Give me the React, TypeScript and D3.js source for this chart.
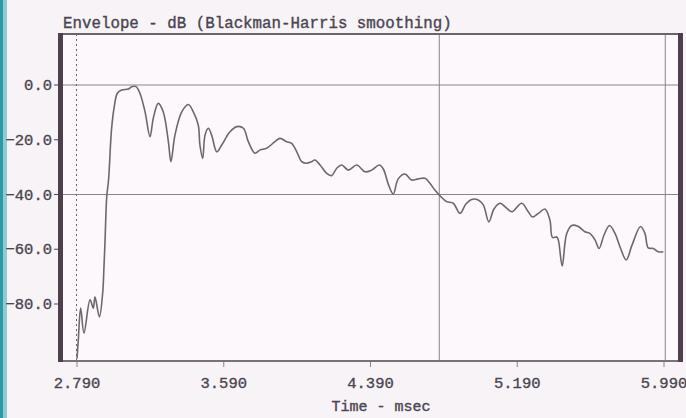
import React, { useEffect, useRef } from 'react';
import * as d3 from 'd3';

// envelope trace, time in msec
const times = [
  2.79, 2.797, 2.81, 2.828, 2.861, 2.879, 2.888, 2.912, 2.93, 2.937, 2.943, 2.952, 2.962, 2.978, 2.992,
  3.01, 3.034, 3.07, 3.088, 3.112, 3.133, 3.161, 3.188, 3.206, 3.233, 3.26, 3.288, 3.302, 3.324, 3.361,
  3.397, 3.424, 3.451, 3.46, 3.475, 3.488, 3.506, 3.524, 3.552, 3.579, 3.624, 3.661, 3.697, 3.724, 3.76,
  3.788, 3.824, 3.869, 3.897, 3.933, 3.96, 3.988, 4.015, 4.042, 4.069, 4.087, 4.115, 4.151, 4.178, 4.206,
  4.233, 4.269, 4.315, 4.36, 4.396, 4.438, 4.46, 4.487, 4.514, 4.541, 4.578, 4.614, 4.65, 4.687, 4.714,
  4.741, 4.769, 4.805, 4.841, 4.878, 4.91, 4.942, 4.977, 5.005, 5.035, 5.063, 5.096, 5.132, 5.161, 5.214,
  5.25, 5.273, 5.305, 5.341, 5.368, 5.382, 5.405, 5.414, 5.435, 5.459, 5.487, 5.523, 5.559, 5.586, 5.614,
  5.636, 5.663, 5.693, 5.723, 5.75, 5.784, 5.815, 5.862, 5.886, 5.904, 5.931, 5.959, 5.986,
];

// level in dB
const levels = [
  -100, -93.2, -81.5, -90.6, -78.5, -81.5, -77.4, -84.7, -76.0, -66.5, -56.6, -40.9, -34.7, -16.4, -8.4,
  -3.0, -1.8, -1.5, -0.6, -0.6, -3.0, -9.8, -18.9, -12.1, -6.7, -9.8, -20.7, -28.0, -18.3, -9.8,
  -7.1, -9.8, -14.6, -21.9, -26.8, -18.3, -15.8, -18.3, -24.4, -21.9, -17.1, -15.2, -15.8, -20.7, -24.9,
  -23.7, -23.1, -20.7, -19.5, -20.7, -21.3, -24.4, -28.0, -28.6, -28.0, -27.4, -29.2, -32.3, -33.1, -30.4,
  -29.2, -31.1, -29.2, -31.7, -31.1, -29.2, -30.7, -36.2, -39.8, -34.3, -32.5, -34.7, -34.3, -34.1, -35.9,
  -38.4, -40.5, -42.6, -43.2, -46.9, -43.5, -41.8, -42.0, -43.8, -50.0, -45.3, -43.2, -45.0, -46.3, -43.2,
  -46.3, -48.2, -46.9, -45.3, -49.3, -55.7, -55.5, -56.6, -66.1, -54.4, -51.3, -51.7, -53.6, -54.2, -56.6,
  -59.7, -54.8, -51.3, -54.2, -59.1, -63.9, -58.6, -51.7, -54.2, -59.5, -59.7, -60.9, -60.9,
];

const xTicks = [2.79, 3.59, 4.39, 5.19, 5.99];
const yTicks = [0, -20, -40, -60, -80];
const gridLevels = [0, -40];
const cursorTimes = [4.765, 5.997];
const markerTime = 2.79;

const W = 686;
const H = 418;
const FONT = '"Liberation Mono", "DejaVu Sans Mono", monospace';
const INK = '#4a4550';

const EnvelopeChart: React.FC = () => {
  const svgRef = useRef<SVGSVGElement>(null);

  useEffect(() => {
    if (!svgRef.current) return;
    const svg = d3.select(svgRef.current);
    svg.selectAll('*').remove();

    const box = { left: 61, right: 680, top: 34, bottom: 361 };
    const x = d3.scaleLinear().domain([2.79, 5.99]).range([77, 664]);
    const y = d3.scaleLinear().domain([0, -80]).range([85, 304]);

    svg.append('rect').attr('width', W).attr('height', H).attr('fill', '#f8f3f7');

    // teal edge on the left
    svg.append('rect').attr('x', 0).attr('width', 3).attr('height', H).attr('fill', '#2f98a4');
    svg.append('rect').attr('x', 3).attr('width', 4).attr('height', H).attr('fill', '#8ccdd3');

    svg.append('rect')
      .attr('x', box.left).attr('y', box.top)
      .attr('width', box.right - box.left).attr('height', box.bottom - box.top)
      .attr('fill', '#fcf8fb');

    // grid
    svg.selectAll('.hgrid')
      .data(gridLevels)
      .enter()
      .append('line')
      .attr('x1', box.left).attr('x2', box.right)
      .attr('y1', (d) => y(d)).attr('y2', (d) => y(d))
      .attr('stroke', '#8c848c').attr('stroke-width', 1);

    svg.selectAll('.cursor')
      .data(cursorTimes)
      .enter()
      .append('line')
      .attr('x1', (d) => x(d)).attr('x2', (d) => x(d))
      .attr('y1', box.top).attr('y2', box.bottom)
      .attr('stroke', '#8c848c').attr('stroke-width', 1);

    svg.append('line')
      .attr('x1', x(markerTime) - 0.5).attr('x2', x(markerTime) - 0.5)
      .attr('y1', box.top).attr('y2', box.bottom)
      .attr('stroke', '#6a626a').attr('stroke-width', 1)
      .attr('stroke-dasharray', '2,3');

    // trace
    const line = d3.line<number>()
      .x((d) => x(d))
      .y((_, i) => y(levels[i]))
      .curve(d3.curveCatmullRom.alpha(0.5));

    svg.append('path')
      .attr('d', line(times) || '')
      .attr('fill', 'none')
      .attr('stroke', '#6b6870')
      .attr('stroke-width', 1.6)
      .attr('stroke-linejoin', 'round');

    // frame
    svg.append('line')
      .attr('x1', box.left).attr('x2', box.right + 2)
      .attr('y1', box.top).attr('y2', box.top)
      .attr('stroke', '#6d636b').attr('stroke-width', 2);
    svg.append('line')
      .attr('x1', box.left).attr('x2', box.right + 2)
      .attr('y1', box.bottom).attr('y2', box.bottom)
      .attr('stroke', '#7a717a').attr('stroke-width', 2);
    svg.append('rect')
      .attr('x', box.left - 3).attr('y', box.top - 1)
      .attr('width', 5).attr('height', box.bottom - box.top + 2)
      .attr('fill', '#4e3f4c');
    svg.append('rect')
      .attr('x', box.right - 2).attr('y', box.top - 1)
      .attr('width', 5).attr('height', box.bottom - box.top + 2)
      .attr('fill', '#4e3f4c');

    const textStyle = (sel: d3.Selection<SVGTextElement, any, any, any>, size: number) =>
      sel.attr('font-family', FONT)
        .attr('font-size', size)
        .attr('fill', INK)
        .attr('stroke', INK)
        .attr('stroke-width', 0.35);

    // y axis
    const yAxis = svg.append('g');
    yAxis.selectAll('line')
      .data(yTicks)
      .enter()
      .append('line')
      .attr('x1', 54).attr('x2', box.left - 3)
      .attr('y1', (d) => y(d)).attr('y2', (d) => y(d))
      .attr('stroke', INK).attr('stroke-width', 1);
    yAxis.selectAll('text')
      .data(yTicks)
      .enter()
      .append('text')
      .attr('x', 52)
      .attr('y', (d) => y(d) + 5)
      .attr('text-anchor', 'end')
      .call(textStyle, 15.5)
      .text((d) => d3.format('.1f')(d));

    // x axis
    const xAxis = svg.append('g');
    xAxis.selectAll('line')
      .data(xTicks)
      .enter()
      .append('line')
      .attr('x1', (d) => x(d)).attr('x2', (d) => x(d))
      .attr('y1', box.bottom + 1).attr('y2', box.bottom + 6)
      .attr('stroke', '#8c848c').attr('stroke-width', 1);
    xAxis.selectAll('text')
      .data(xTicks)
      .enter()
      .append('text')
      .attr('x', (d) => x(d))
      .attr('y', 388)
      .attr('text-anchor', 'middle')
      .call(textStyle, 15.5)
      .text((d) => d3.format('.3f')(d));

    svg.append('text')
      .attr('x', 381).attr('y', 411)
      .attr('text-anchor', 'middle')
      .call(textStyle, 15)
      .text('Time - msec');

    svg.append('text')
      .attr('x', 63).attr('y', 28)
      .call(textStyle, 15.8)
      .text('Envelope - dB (Blackman-Harris smoothing)');
  }, []);

  return <svg ref={svgRef} width={W} height={H} style={{ position: 'absolute', left: 0, top: 0 }} />;
};

export default function App() {
  return <EnvelopeChart />;
}
